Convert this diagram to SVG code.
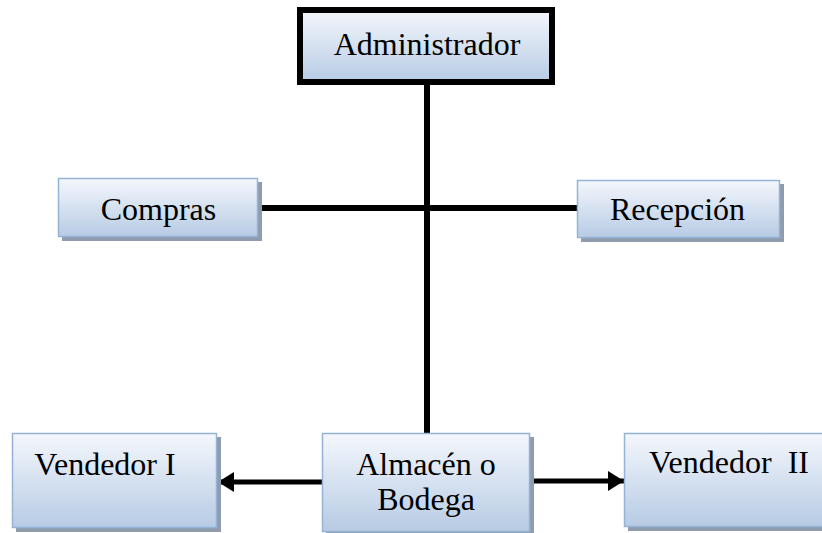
<svg xmlns="http://www.w3.org/2000/svg" width="822" height="533" viewBox="0 0 822 533">
<defs>
<linearGradient id="g" x1="0" y1="0" x2="0" y2="1">
<stop offset="0" stop-color="#f4f7fc"/>
<stop offset="1" stop-color="#b7cbe4"/>
</linearGradient>
<marker id="ah" markerWidth="4" markerHeight="4" refX="3.2" refY="2" orient="auto" markerUnits="strokeWidth">
<path d="M0,0 L3.2,2 L0,4 Z" fill="#000"/>
</marker>
</defs>
<style>
.box{fill:url(#g);stroke:#95b3d7;stroke-width:1.5}
.sh{fill:#8e9cae}
.t{font-family:"Liberation Serif",serif;font-size:32px;fill:#000;text-anchor:middle}
.ln{stroke:#000;stroke-width:6;fill:none}
.ar{stroke:#000;stroke-width:5;fill:none;marker-end:url(#ah)}
</style>
<rect width="822" height="533" fill="#fff"/>
<g id="connectors">
<line class="ln" x1="427" y1="84" x2="427" y2="433"/>
<line class="ln" x1="258" y1="208" x2="578" y2="208"/>
<line class="ar" x1="322" y1="482" x2="218" y2="482"/>
<line class="ar" x1="530" y1="481" x2="624" y2="481"/>
</g>
<g id="administrador">
<rect x="300" y="10" width="252" height="72" fill="url(#g)" stroke="#000" stroke-width="6"/>
<text class="t" x="427" y="55">Administrador</text>
</g>
<g id="compras">
<rect class="sh" x="62" y="182" width="200" height="59"/>
<rect class="box" x="58.5" y="178.5" width="199" height="58"/>
<text class="t" x="158.5" y="220">Compras</text>
</g>
<g id="recepcion">
<rect class="sh" x="581" y="184" width="203" height="58"/>
<rect class="box" x="577.5" y="180.5" width="202" height="57"/>
<text class="t" x="677.5" y="220">Recepción</text>
</g>
<g id="vendedor1">
<rect class="sh" x="16" y="437" width="205" height="95"/>
<rect class="box" x="12.5" y="433.5" width="204" height="94"/>
<text class="t" x="105" y="475">Vendedor I</text>
</g>
<g id="almacen">
<rect class="sh" x="326" y="437" width="208" height="100"/>
<rect class="box" x="322.5" y="433.5" width="207" height="98"/>
<text class="t" x="426" y="475">Almacén o</text>
<text class="t" x="426" y="510">Bodega</text>
</g>
<g id="vendedor2">
<rect class="sh" x="628" y="437" width="210" height="94"/>
<rect class="box" x="624.5" y="433.5" width="210" height="93"/>
<text class="t" x="729" y="473" xml:space="preserve">Vendedor  II</text>
</g>
</svg>
